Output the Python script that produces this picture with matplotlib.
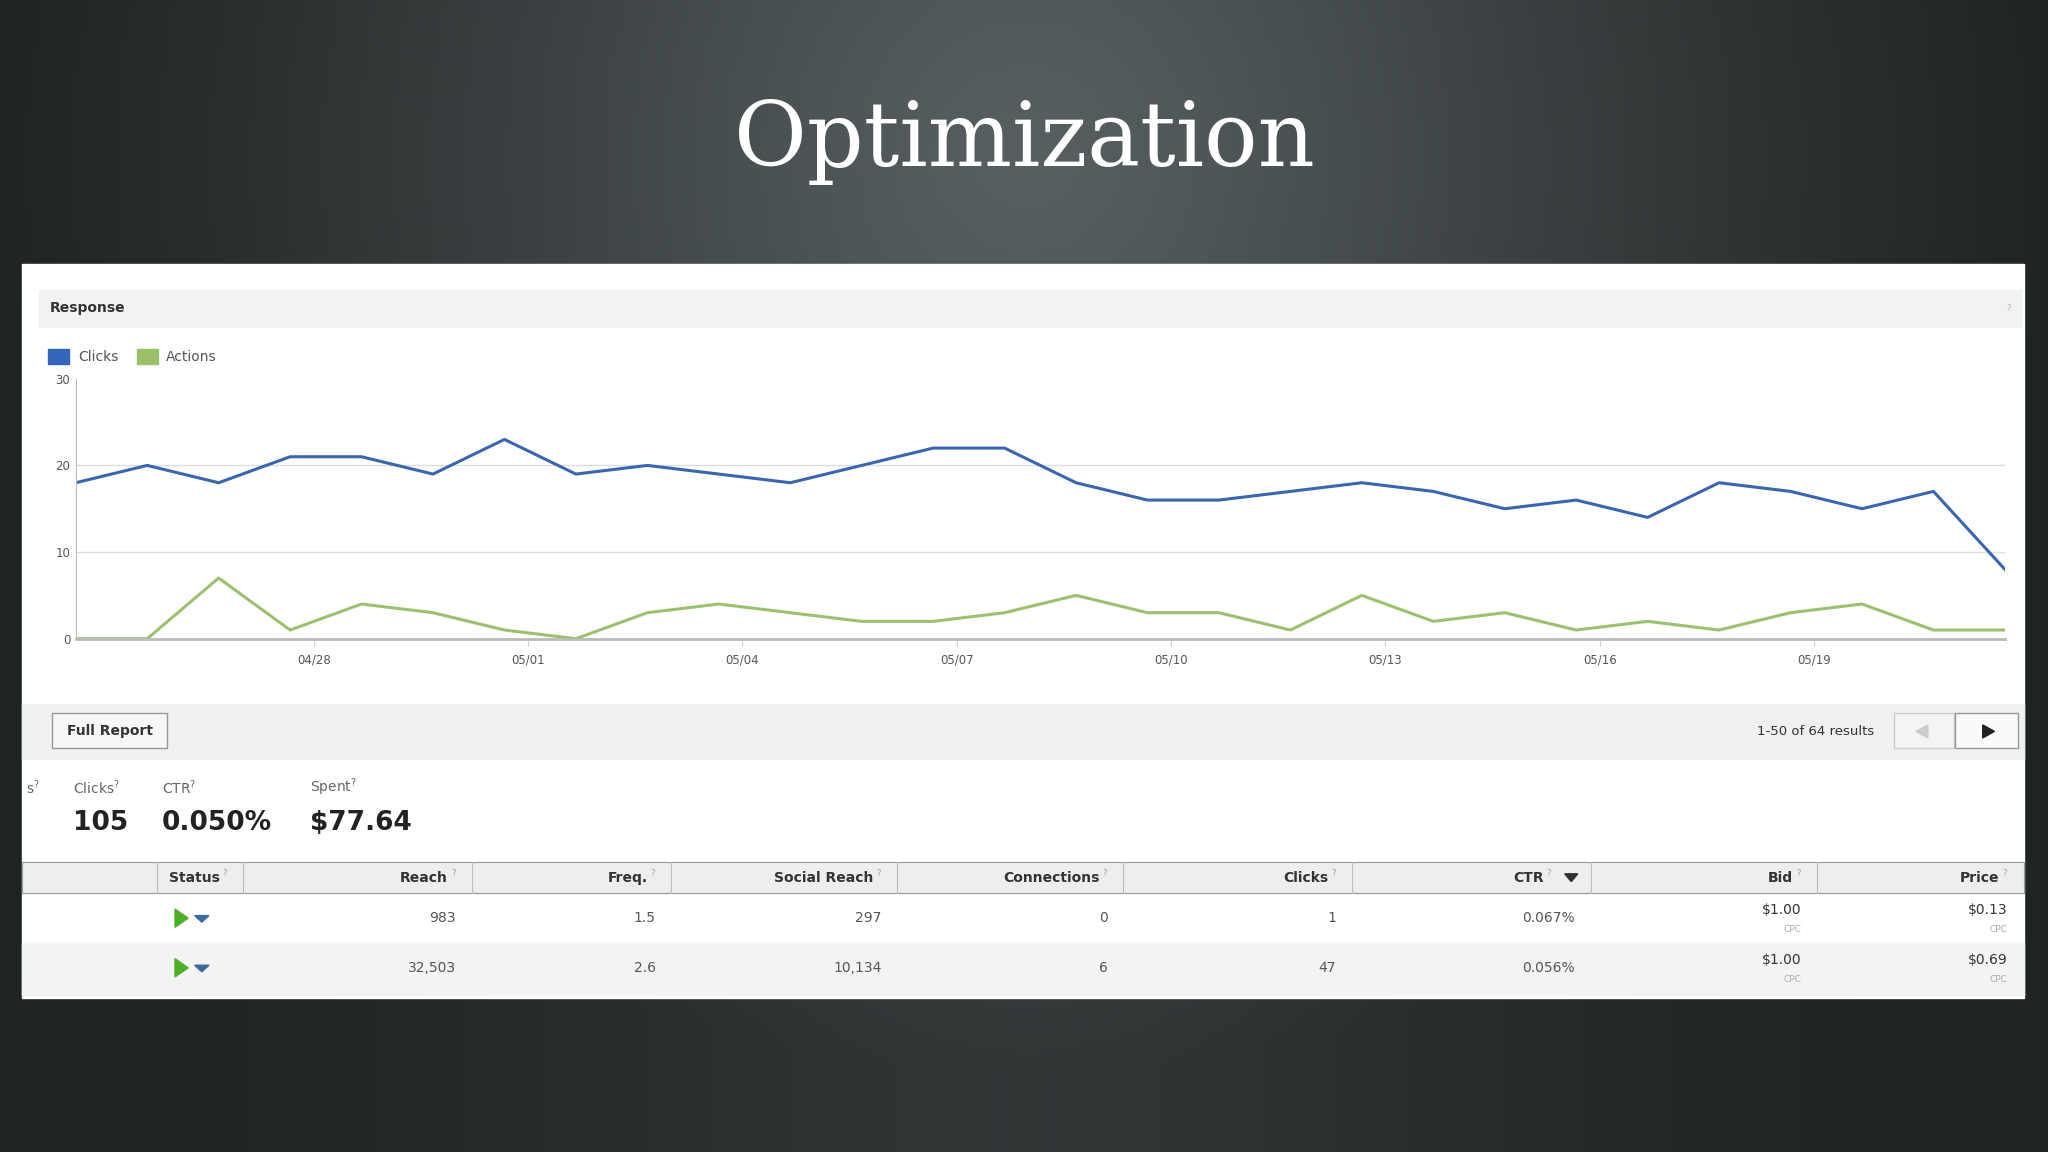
import numpy as np
import matplotlib.pyplot as plt
from matplotlib.patches import Rectangle, Polygon

clicks = [18, 20, 18, 21, 21, 19, 23, 19, 20, 19, 18, 20, 22, 22,
          18, 16, 16, 17, 18, 17, 15, 16, 14, 18, 17, 15, 17, 8]
actions = [0, 0, 7, 1, 4, 3, 1, 0, 3, 4, 3, 2, 2, 3,
           5, 3, 3, 1, 5, 2, 3, 1, 2, 1, 3, 4, 1, 1]
date_labels = ['04/28', '05/01', '05/04', '05/07', '05/10', '05/13', '05/16', '05/19']
date_pos = [3.33 + 3 * i for i in range(len(date_labels))]

headers = ['Status', 'Reach', 'Freq.', 'Social Reach', 'Connections', 'Clicks', 'CTR', 'Bid', 'Price']
header_right = [180, 355, 508, 681, 854, 1029, 1212, 1385, 1543]
row1 = ['983', '1.5', '297', '0', '1', '0.067%', '$1.00', '$0.13']
row2 = ['32,503', '2.6', '10,134', '6', '47', '0.056%', '$1.00', '$0.69']

W, H = 1568, 882
fig = plt.figure(figsize=(20.48, 11.52), dpi=100)

# background: dark slate with a lighter vertical band in the middle
bg = fig.add_axes([0, 0, 1, 1])
yy, xx = np.mgrid[0:H:4, 0:W:4]
r = np.sqrt(((xx - 784) / 800) ** 2 + ((yy - 120) / 700) ** 2)
band = np.exp(-((xx - 784) / 420) ** 2)
shade = 0.13 + 0.16 * np.clip(1 - r, 0, 1) + 0.07 * band
bg.imshow(np.dstack([shade * 0.95, shade * 1.04, shade * 1.06]).clip(0, 1),
          extent=[0, W, H, 0], aspect='auto')
bg.set_xlim(0, W)
bg.set_ylim(H, 0)
bg.axis('off')

bg.text(784, 108, 'Optimization', color='white', fontsize=64, family='DejaVu Serif',
        ha='center', va='center')

# white panel
bg.add_patch(Rectangle((17, 202), 1533, 562, color='white'))
bg.add_patch(Rectangle((30, 222), 1517, 28, color='#f2f2f2'))
bg.text(38, 236, 'Response', fontsize=10, weight='bold', color='#333333', va='center')
bg.text(1536, 236, '?', fontsize=6, color='#aaaaaa', va='center')

# legend
bg.add_patch(Rectangle((37, 267), 16, 12, color='#3366bb'))
bg.text(60, 273, 'Clicks', fontsize=10, color='#555555', va='center')
bg.add_patch(Rectangle((105, 267), 16, 12, color='#99c066'))
bg.text(127, 273, 'Actions', fontsize=10, color='#555555', va='center')

# toolbar
bg.add_patch(Rectangle((17, 539), 1533, 42, color='#f0f0f0'))
bg.add_patch(Rectangle((40, 546), 88, 27, facecolor='#f7f7f7', edgecolor='#999999'))
bg.text(84, 560, 'Full Report', fontsize=10, weight='bold', color='#333333', ha='center', va='center')
bg.text(1435, 560, '1-50 of 64 results', fontsize=9.5, color='#333333', ha='right', va='center')
bg.add_patch(Rectangle((1450, 546), 46, 27, facecolor='#f4f4f4', edgecolor='#cccccc'))
bg.add_patch(Rectangle((1497, 546), 48, 27, facecolor='#fafafa', edgecolor='#999999'))
bg.add_patch(Polygon([[1476, 555], [1476, 565], [1467, 560]], closed=True, color='#cccccc'))
bg.add_patch(Polygon([[1518, 555], [1518, 565], [1527, 560]], closed=True, color='#222222'))

# summary
for x, lab, val in [(56, 'Clicks', '105'), (124, 'CTR', '0.050%'), (237, 'Spent', '$77.64')]:
    bg.text(x, 603, lab + '$^?$', fontsize=10, color='#666666', va='center')
    bg.text(x, 630, val, fontsize=19, weight='bold', color='#222222', va='center')
bg.text(20, 603, 's$^?$', fontsize=10, color='#666666', va='center')

# table header
bg.add_patch(Rectangle((17, 660), 1533, 24, facecolor='#eeeeee', edgecolor='#999999', lw=0.8))
prev = 120
for hx, h in zip(header_right, headers):
    bg.plot([prev, prev], [660, 684], color='#bbbbbb', lw=0.8)
    off = 30 if h == 'CTR' else 12
    bg.text(hx - off, 672, h, fontsize=10, weight='bold', color='#333333', ha='right', va='center')
    bg.text(hx - off + 4, 669, '?', fontsize=6, color='#999999', ha='center', va='center')
    prev = hx + 6
bg.add_patch(Polygon([[1198, 669], [1208, 669], [1203, 675]], closed=True, color='#333333'))
bg.add_patch(Rectangle((17, 722), 1533, 40, color='#f3f3f3'))
for y, row in [(703, row1), (741, row2)]:
    bg.add_patch(Polygon([[134, y - 7], [134, y + 7], [144, y]], closed=True, color='#4caf28'))
    bg.add_patch(Polygon([[149, y - 2], [160, y - 2], [154.5, y + 3]], closed=True, color='#3b6aa0'))
    for hx, v in zip(header_right[1:], row):
        if v.startswith('$'):
            bg.text(hx - 6, y - 6, v, fontsize=10, color='#333333', ha='right', va='center')
            bg.text(hx - 6, y + 9, 'CPC', fontsize=6.5, color='#aaaaaa', ha='right', va='center')
        else:
            bg.text(hx - 6, y, v, fontsize=10, color='#555555', ha='right', va='center')

# chart
ax = fig.add_axes([58 / W, 1 - 489 / H, (1535 - 58) / W, (489 - 290) / H])
x = np.arange(len(clicks))
ax.plot(x, clicks, color='#3a66b0', lw=2.2)
ax.plot(x, actions, color='#9cc16e', lw=2.2)
ax.set_xlim(0, len(clicks) - 1)
ax.set_ylim(0, 30)
ax.set_yticks([0, 10, 20, 30])
ax.set_xticks(date_pos)
ax.set_xticklabels(date_labels)
ax.tick_params(axis='x', length=5, color='#cccccc', labelsize=8.5, labelcolor='#555555', pad=6)
ax.tick_params(axis='y', length=0, labelsize=8.5, labelcolor='#555555', pad=4)
for yv in [10, 20]:
    ax.axhline(yv, color='#dddddd', lw=1, zorder=0)
for s in ['top', 'right']:
    ax.spines[s].set_visible(False)
ax.spines['left'].set_color('#bbbbbb')
ax.spines['bottom'].set_color('#bbbbbb')
ax.spines['bottom'].set_linewidth(2)
ax.patch.set_alpha(0)

fig.savefig('out.png', dpi=100)
